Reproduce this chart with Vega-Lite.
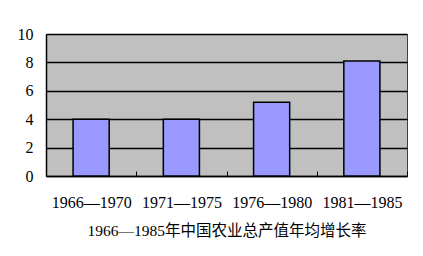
{
  "$schema": "https://vega.github.io/schema/vega-lite/v6.json",
  "width": 361,
  "height": 142,
  "autosize": "none",
  "padding": {"left": 46, "top": 34, "right": 16, "bottom": 80},
  "background": "white",
  "data": {
    "values": [
      {"period": "1966—1970", "rate": 4.0},
      {"period": "1971—1975", "rate": 4.0},
      {"period": "1976—1980", "rate": 5.2},
      {"period": "1981—1985", "rate": 8.1}
    ]
  },
  "mark": {"type": "bar", "fill": "#9999FF", "stroke": "black", "strokeWidth": 1.5, "width": {"band": 0.4}},
  "encoding": {
    "x": {
      "field": "period",
      "type": "nominal",
      "sort": null,
      "scale": {"paddingInner": 0, "paddingOuter": 0},
      "axis": {
        "title": "1966—1985年中国农业总产值年均增长率",
        "titleFont": "'Liberation Serif', 'Times New Roman', 'Noto Sans CJK SC', serif",
        "titleFontSize": 15.5,
        "titleFontWeight": "normal",
        "titleColor": "black",
        "titlePadding": 13,
        "labelAngle": 0,
        "labelFont": "'Liberation Serif', 'Times New Roman', serif",
        "labelFontSize": 16,
        "labelColor": "black",
        "labelPadding": 23,
        "domainColor": "black",
        "domainWidth": 1.5,
        "ticks": true,
        "tickBand": "extent",
        "tickSize": -5,
        "tickColor": "black",
        "tickWidth": 1
      }
    },
    "y": {
      "field": "rate",
      "type": "quantitative",
      "scale": {"domain": [0, 10]},
      "axis": {
        "title": null,
        "values": [0, 2, 4, 6, 8, 10],
        "labelFont": "'Liberation Serif', 'Times New Roman', serif",
        "labelFontSize": 16,
        "labelColor": "black",
        "labelPadding": 13,
        "ticks": false,
        "domainColor": "black",
        "domainWidth": 1.5,
        "grid": true,
        "gridColor": "black",
        "gridOpacity": 1,
        "gridWidth": 1.5
      }
    }
  },
  "config": {
    "view": {"fill": "#C0C0C0", "stroke": "#404040", "strokeWidth": 1}
  }
}
